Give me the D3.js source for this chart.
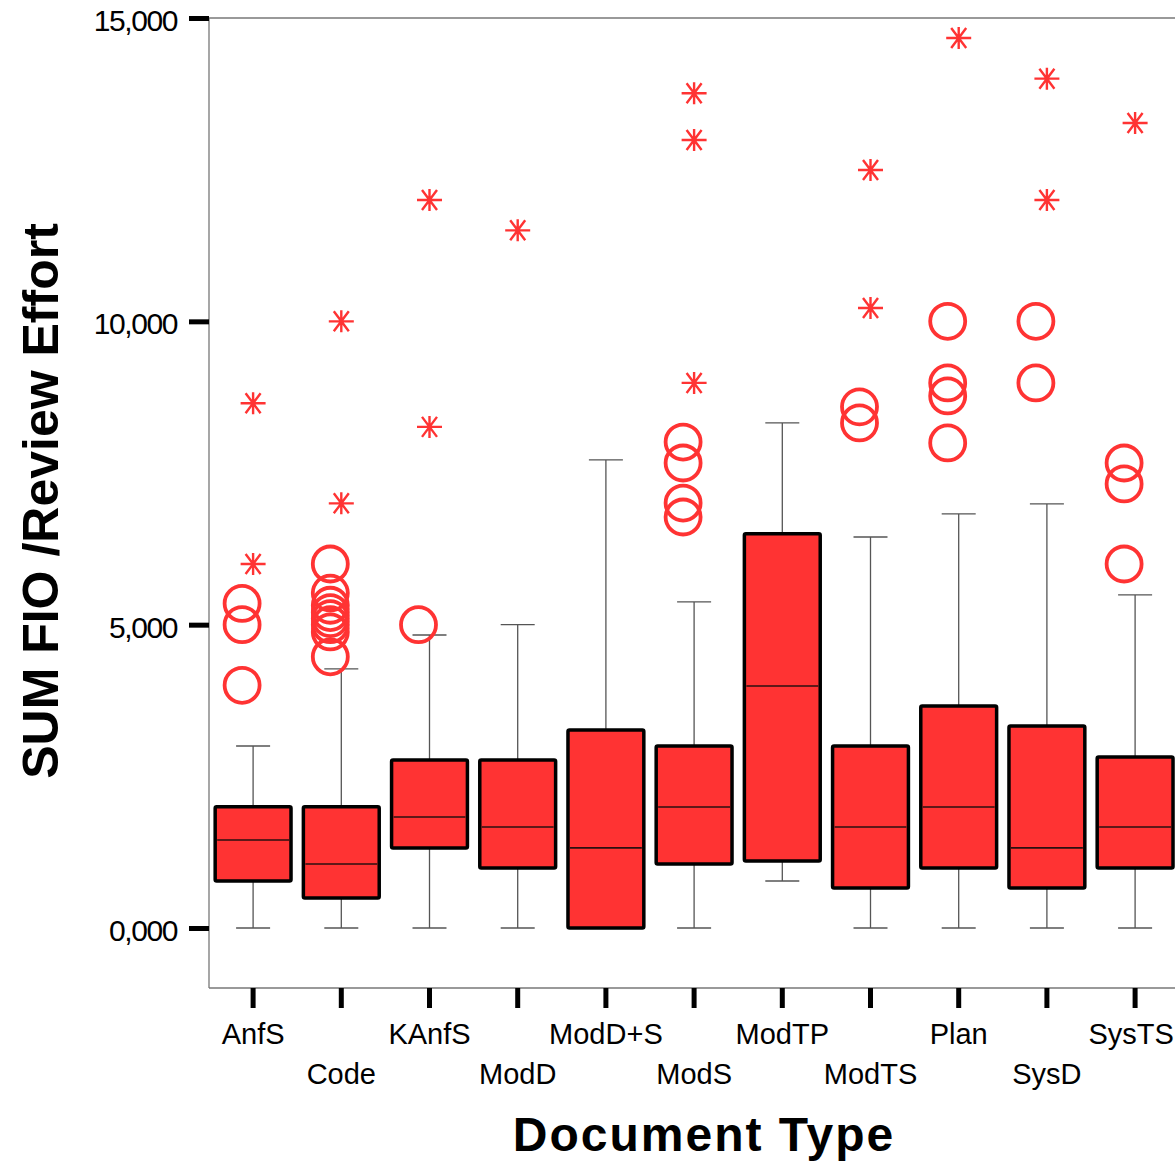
<!DOCTYPE html>
<html>
<head>
<meta charset="utf-8">
<script src="https://cdn.jsdelivr.net/npm/d3@7"></script>
<style>
  body { margin: 0; background: #fff; }
  text { font-family: "Liberation Sans", Arial, sans-serif; }
</style>
</head>
<body>
<div id="chart"></div>
<script>
// document types and box statistics
const categories = ["AnfS", "Code", "KAnfS", "ModD", "ModD+S", "ModS", "ModTP", "ModTS", "Plan", "SysD", "SysTS"];
const whiskerLow  = [0, 0, 0, 0, 0, 0, 775, 0, 0, 0, 0];
const q1          = [775, 495, 1320, 990, 0, 1055, 1105, 660, 990, 660, 990];
const median      = [1450, 1055, 1830, 1665, 1320, 1995, 3990, 1665, 1995, 1320, 1665];
const q3          = [2000, 2000, 2770, 2770, 3265, 3000, 6500, 3000, 3660, 3330, 2820];
const whiskerHigh = [3000, 4270, 4830, 5000, 7715, 5375, 8325, 6445, 6825, 6990, 5490];
// outliers (circles) and extremes (stars)
const outliers = [
  [5350, 5000, 4000],
  [6000, 5520, 5320, 5200, 5100, 5000, 4880, 4470],
  [5000],
  [],
  [],
  [8010, 7665, 7005, 6775],
  [],
  [8590, 8325],
  [10000, 8985, 8770, 7995],
  [10000, 8985],
  [7665, 7320, 6000]
];
const extremes = [
  [8650, 6000],
  [10000, 7000],
  [12000, 8260],
  [11500],
  [],
  [13760, 12990, 8985],
  [],
  [12495, 10220],
  [14670],
  [14000, 12000],
  [13270]
];
const yTicks = [0, 5000, 10000, 15000];

const width = 1175, height = 1162;
const plotLeft = 209, plotTop = 18, plotBottom = 988;
const red = "#ff3333";

const svg = d3.select("#chart").append("svg")
  .attr("width", width)
  .attr("height", height);

const x = d3.scaleBand()
  .domain(categories)
  .range([plotLeft, plotLeft + 11 * 88.2])
  .paddingInner(0.14)
  .paddingOuter(0.07);

const y = d3.scaleLinear()
  .domain([-989, 15000])
  .range([plotBottom, plotTop]);

const cx = d => x(d) + x.bandwidth() / 2;

// frame: left axis line, top and bottom lines
svg.append("line")
  .attr("x1", plotLeft).attr("x2", plotLeft).attr("y1", plotTop).attr("y2", plotBottom)
  .attr("stroke", "#777").attr("stroke-width", 1.3);
svg.append("line")
  .attr("x1", plotLeft).attr("x2", width).attr("y1", plotTop).attr("y2", plotTop)
  .attr("stroke", "#777").attr("stroke-width", 1.3);
svg.append("line")
  .attr("x1", plotLeft).attr("x2", width).attr("y1", plotBottom).attr("y2", plotBottom)
  .attr("stroke", "#777").attr("stroke-width", 1.3);

// y axis
const yAxis = d3.axisLeft(y)
  .tickValues(yTicks)
  .tickSize(20)
  .tickPadding(12)
  .tickFormat(d => d === 0 ? "0,000" : d3.format(",")(d));
const gy = svg.append("g")
  .attr("transform", `translate(${plotLeft},0)`)
  .call(yAxis);
gy.select(".domain").remove();
gy.selectAll(".tick line").attr("stroke", "#000").attr("stroke-width", 5);
gy.selectAll(".tick text")
  .attr("font-size", 30)
  .attr("letter-spacing", -1.4)
  .attr("fill", "#000")
  .attr("dy", "0.42em");

// x axis
const xAxis = d3.axisBottom(x).tickSize(20).tickPadding(0);
const gx = svg.append("g")
  .attr("transform", `translate(0,${plotBottom})`)
  .call(xAxis);
gx.select(".domain").remove();
gx.selectAll(".tick line").attr("stroke", "#000").attr("stroke-width", 5);
gx.selectAll(".tick text")
  .attr("font-size", 29)
  .attr("fill", "#000")
  .attr("dy", null)
  .attr("x", (d, i) => i === categories.length - 1 ? -4 : 0)
  .attr("y", (d, i) => i % 2 === 0 ? 56 : 96);

const g = svg.append("g");

const boxes = g.selectAll(".box")
  .data(categories)
  .enter()
  .append("g")
  .attr("class", "box");

// whiskers
boxes.append("line")
  .attr("x1", d => cx(d)).attr("x2", d => cx(d))
  .attr("y1", (d, i) => y(whiskerHigh[i]))
  .attr("y2", (d, i) => y(q3[i]))
  .attr("stroke", "#555").attr("stroke-width", 1.3);
boxes.append("line")
  .attr("x1", d => cx(d)).attr("x2", d => cx(d))
  .attr("y1", (d, i) => y(q1[i]))
  .attr("y2", (d, i) => y(whiskerLow[i]))
  .attr("stroke", "#555").attr("stroke-width", 1.3);
boxes.append("line")
  .attr("x1", d => cx(d) - 17).attr("x2", d => cx(d) + 17)
  .attr("y1", (d, i) => y(whiskerHigh[i]))
  .attr("y2", (d, i) => y(whiskerHigh[i]))
  .attr("stroke", "#555").attr("stroke-width", 1.3);
boxes.append("line")
  .attr("x1", d => cx(d) - 17).attr("x2", d => cx(d) + 17)
  .attr("y1", (d, i) => y(whiskerLow[i]))
  .attr("y2", (d, i) => y(whiskerLow[i]))
  .attr("stroke", "#555").attr("stroke-width", 1.3);

// boxes
boxes.append("rect")
  .attr("x", d => x(d))
  .attr("width", x.bandwidth())
  .attr("y", (d, i) => y(q3[i]))
  .attr("height", (d, i) => y(q1[i]) - y(q3[i]))
  .attr("rx", 1.5)
  .attr("fill", red)
  .attr("stroke", "#000")
  .attr("stroke-width", 3.5);

boxes.append("line")
  .attr("x1", d => x(d) + 2).attr("x2", d => x(d) + x.bandwidth() - 2)
  .attr("y1", (d, i) => y(median[i]))
  .attr("y2", (d, i) => y(median[i]))
  .attr("stroke", "#2a1010").attr("stroke-width", 1.6);

// outlier circles
boxes.each(function (d, i) {
  d3.select(this).selectAll(".out")
    .data(outliers[i])
    .enter()
    .append("circle")
    .attr("class", "out")
    .attr("cx", cx(d) - 11)
    .attr("cy", v => y(v))
    .attr("r", 17.5)
    .attr("fill", "none")
    .attr("stroke", red)
    .attr("stroke-width", 3.8);
});

// extreme stars
const star = "M0,-11 L0,11 M-12.5,0 L12.5,0 M-7.5,-10 L7.5,10 M-7.5,10 L7.5,-10";
boxes.each(function (d, i) {
  d3.select(this).selectAll(".ext")
    .data(extremes[i])
    .enter()
    .append("path")
    .attr("class", "ext")
    .attr("d", star)
    .attr("transform", v => `translate(${cx(d)},${y(v)})`)
    .attr("fill", "none")
    .attr("stroke", red)
    .attr("stroke-width", 2.4);
});

// titles
svg.append("text")
  .attr("x", 704)
  .attr("y", 1151)
  .attr("text-anchor", "middle")
  .attr("font-size", 48)
  .attr("font-weight", "bold")
  .attr("letter-spacing", 2)
  .text("Document Type");

svg.append("text")
  .attr("transform", "translate(58,501) rotate(-90)")
  .attr("text-anchor", "middle")
  .attr("font-size", 50)
  .attr("font-weight", "bold")
  .text("SUM FIO /Review Effort");
</script>
</body>
</html>
